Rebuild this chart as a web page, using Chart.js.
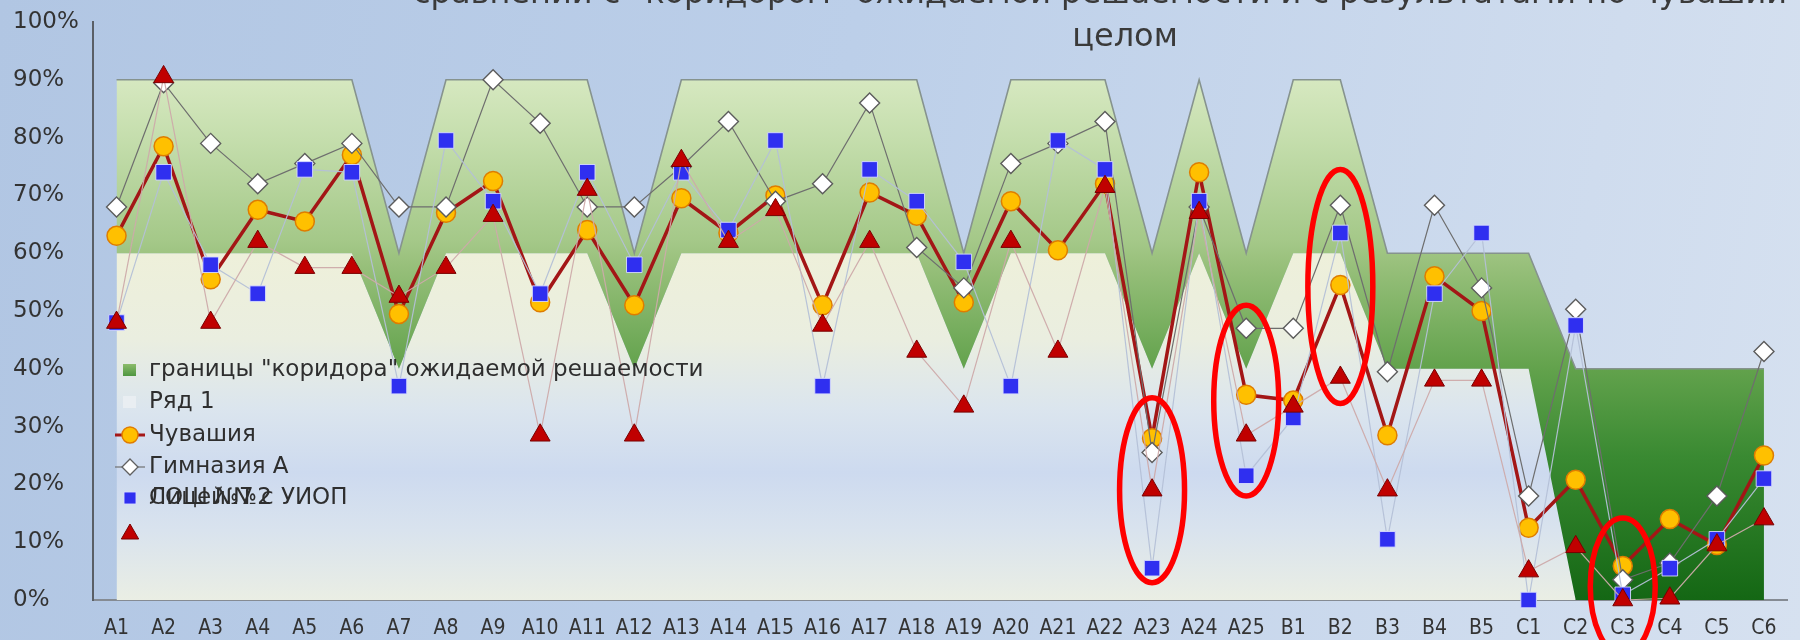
<!DOCTYPE html>
<html><head><meta charset="utf-8">
<script src="https://cdn.jsdelivr.net/npm/chart.js@4.4.1/dist/chart.umd.min.js"></script>
<style>
html,body{margin:0;padding:0;overflow:hidden;}
body{width:1800px;height:640px;background:linear-gradient(100deg,#b1c6e3 0%,#bccfe9 45%,#cfdcee 85%,#d6e1f0 100%);}
#wrap{position:relative;width:1800px;height:640px;}
</style></head><body><div id="wrap"><canvas id="c" width="1800" height="640"></canvas></div>
<script>
const categories = ['А1','А2','А3','А4','А5','А6','А7','А8','А9','А10','А11','А12','А13','А14','А15','А16','А17','А18','А19','А20','А21','А22','А23','А24','А25','В1','В2','В3','В4','В5','С1','С2','С3','С4','С5','С6'];
const corridorLow  = [60,60,60,60,60,60,40,60,60,60,60,40,60,60,60,60,60,60,40,60,60,60,40,60,40,60,60,40,40,40,40,0,0,0,0,0];
const corridorHigh = [90,90,90,90,90,90,60,90,90,90,90,60,90,90,90,90,90,90,60,90,90,90,60,90,60,90,90,60,60,60,60,40,40,40,40,40];
const chuvashia  = [63,78.5,55.5,67.5,65.5,77,49.5,67,72.5,51.5,64,51,69.5,63.5,70,51,70.5,66.5,51.5,69,60.5,72,28,74,35.5,34.5,54.5,28.5,56,50,12.5,20.8,5.9,14,9.5,25];
const gymnasiumA = [68,89.5,79,72,75.5,79,68,68,90,82.5,68,68,75,82.8,69,72,86,61,54,75.5,79,82.8,25.5,68,47,47,68.3,39.5,68.3,54,18,50.3,3.5,6.4,18,43];
const lyceum     = [48,74,58,53,74.5,74,37,79.5,69,53,74,58,74,64,79.5,37,74.5,69,58.5,37,79.5,74.5,5.5,69,21.5,31.5,63.5,10.5,53,63.5,0,47.5,0.9,5.5,10.5,21];
const school7    = [48,90.5,48,62,57.5,57.5,52.5,57.5,66.5,28.5,71,28.5,76,62,67.5,47.5,62,43,33.5,62,43,71.5,19,67,28.5,33.5,38.5,19,38,38,5,9.2,0,0.3,9.5,14];
const yTicks = [0,10,20,30,40,50,60,70,80,90,100];
const seriesNames = ['Ряд 1','границы "коридора" ожидаемой решаемости','Чувашия','Гимназия А','Лицей №2','СОШ №7 с УИОП'];
const titleLines = ['сравнении с "коридором" ожидаемой решаемости и с результатами по Чувашии в','целом'];
// highlighted cells (category, value range) circled in red
const highlightCats = ['А23','А25','В2','С3'];
const highlightLo   = [3,18,34,-9.5];
const highlightHi   = [35,51,74.5,14.2];

const FONT = '"DejaVu Sans", Verdana, sans-serif';
const FONT_COND = '"DejaVu Sans Condensed", "DejaVu Sans", sans-serif';

function vGradient(chart, stops) {
  const ys = chart.scales.y;
  const y0 = ys.getPixelForValue(100), y1 = ys.getPixelForValue(0);
  const g = chart.ctx.createLinearGradient(0, y0, 0, y1);
  stops.forEach(([v, c]) => g.addColorStop((100 - v) / 100, c));
  return g;
}
const greenStops = [[100,'#dbebc6'],[90,'#d6e8c0'],[80,'#c5dead'],[62,'#a4c888'],[58,'#98c07b'],[40,'#62a24c'],[25,'#3a8a32'],[0,'#146714']];
const lowStops = [[100,'#eef0da'],[60,'#eef0da'],[45,'#eaeee0'],[33,'#dbe5ee'],[22,'#cddaef'],[12,'#d9e3ee'],[0,'#eaeee4']];

function drawCircle(ctx,x,y,r,fill,stroke,lw){ctx.beginPath();ctx.arc(x,y,r,0,Math.PI*2);ctx.fillStyle=fill;ctx.fill();ctx.lineWidth=lw;ctx.strokeStyle=stroke;ctx.stroke();}
function drawDiamond(ctx,x,y,r,fill,stroke,lw){ctx.beginPath();ctx.moveTo(x,y-r);ctx.lineTo(x+r,y);ctx.lineTo(x,y+r);ctx.lineTo(x-r,y);ctx.closePath();ctx.fillStyle=fill;ctx.fill();ctx.lineWidth=lw;ctx.strokeStyle=stroke;ctx.stroke();}
function drawSquare(ctx,x,y,s,fill,stroke,lw){ctx.beginPath();ctx.rect(x-s/2,y-s/2,s,s);ctx.fillStyle=fill;ctx.fill();ctx.lineWidth=lw;ctx.strokeStyle=stroke;ctx.stroke();}
function drawTriangle(ctx,x,y,r,fill,stroke,lw){const w=r*0.866;ctx.beginPath();ctx.moveTo(x,y-r);ctx.lineTo(x+w,y+r/2);ctx.lineTo(x-w,y+r/2);ctx.closePath();ctx.fillStyle=fill;ctx.fill();ctx.lineWidth=lw;ctx.strokeStyle=stroke;ctx.stroke();}

const titlePlugin = {
  id: 'slideTitle',
  afterDraw(chart) {
    const ctx = chart.ctx;
    ctx.save();
    ctx.font = '32px ' + FONT;
    ctx.fillStyle = '#3a3a3a';
    ctx.textBaseline = 'alphabetic';
    ctx.textAlign = 'left';
    ctx.fillText(titleLines[0], 413, 3);
    ctx.textAlign = 'center';
    ctx.fillText(titleLines[1], 1125, 46);
    ctx.restore();
  }
};

const legendPlugin = {
  id: 'sheetLegend',
  afterDatasetsDraw(chart) {
    const ctx = chart.ctx;
    const mx = 130, tx = 149;
    const rows = [370, 402, 435, 467, 498, 532];
    ctx.save();
    const gg = ctx.createLinearGradient(0, rows[0]-6, 0, rows[0]+6);
    gg.addColorStop(0,'#8cbc6c'); gg.addColorStop(1,'#4e9640');
    ctx.fillStyle = gg; ctx.fillRect(mx-7, rows[0]-6, 13, 12);
    ctx.fillStyle = '#e9eef2'; ctx.fillRect(mx-7, rows[1]-6, 13, 12);
    ctx.beginPath(); ctx.moveTo(mx-15, rows[2]); ctx.lineTo(mx+15, rows[2]);
    ctx.strokeStyle = '#a51717'; ctx.lineWidth = 3; ctx.stroke();
    drawCircle(ctx, mx, rows[2], 8, '#ffc000', '#e07c00', 1.5);
    ctx.beginPath(); ctx.moveTo(mx-15, rows[3]); ctx.lineTo(mx+15, rows[3]);
    ctx.strokeStyle = '#707070'; ctx.lineWidth = 1.2; ctx.stroke();
    drawDiamond(ctx, mx, rows[3], 8, '#ffffff', '#606060', 1.3);
    drawSquare(ctx, mx, rows[4], 12, '#2f2ff0', 'rgba(215,220,255,0.9)', 1);
    drawTriangle(ctx, mx, rows[5]+2, 10, '#c00000', '#7a0000', 1);
    ctx.font = '23px ' + FONT;
    ctx.fillStyle = '#2e2e2e';
    ctx.textBaseline = 'middle';
    ctx.textAlign = 'left';
    ctx.fillText(seriesNames[1], tx, rows[0]);
    ctx.fillText(seriesNames[0], tx, rows[1]);
    ctx.fillText(seriesNames[2], tx, rows[2]);
    ctx.fillText(seriesNames[3], tx, rows[3]);
    ctx.fillText(seriesNames[4], tx, rows[4]);
    ctx.fillText(seriesNames[5], tx, rows[4]);
    ctx.restore();
  }
};

const ellipsePlugin = {
  id: 'redEllipses',
  afterDatasetsDraw(chart) {
    const ctx = chart.ctx, xs = chart.scales.x, ys = chart.scales.y;
    const step = xs.getPixelForValue(1) - xs.getPixelForValue(0);
    ctx.save();
    ctx.strokeStyle = '#ff0000';
    ctx.lineWidth = 5.5;
    highlightCats.forEach((c, i) => {
      const cx = xs.getPixelForValue(categories.indexOf(c));
      const yt = ys.getPixelForValue(highlightHi[i]);
      const yb = ys.getPixelForValue(highlightLo[i]);
      ctx.beginPath();
      ctx.ellipse(cx, (yt + yb) / 2, step * 0.69, (yb - yt) / 2, 0, 0, Math.PI * 2);
      ctx.stroke();
    });
    ctx.restore();
  }
};

new Chart(document.getElementById('c'), {
  type: 'line',
  data: {
    labels: categories,
    datasets: [
      { label: seriesNames[0], data: corridorLow, fill: 'origin', order: 10,
        backgroundColor: (c) => c.chart.chartArea ? vGradient(c.chart, lowStops) : '#eef0da',
        borderWidth: 0, borderColor: 'rgba(0,0,0,0)', pointRadius: 0, tension: 0 },
      { label: seriesNames[1], data: corridorHigh, fill: '-1', order: 9,
        backgroundColor: (c) => c.chart.chartArea ? vGradient(c.chart, greenStops) : '#a4c888',
        borderWidth: 1.6, borderColor: '#86938e', pointRadius: 0, tension: 0 },
      { label: seriesNames[2], data: chuvashia, order: 4, fill: false, clip: false,
        borderColor: '#a31616', borderWidth: 3.5,
        pointStyle: 'circle', pointRadius: 9.5, pointBackgroundColor: '#ffc000',
        pointBorderColor: '#de7d00', pointBorderWidth: 1.5 },
      { label: seriesNames[3], data: gymnasiumA, order: 3, fill: false, clip: false,
        borderColor: '#6e6e6e', borderWidth: 1.2,
        pointStyle: 'rectRot', pointRadius: 10, pointBackgroundColor: '#ffffff',
        pointBorderColor: '#5c5c5c', pointBorderWidth: 1.4 },
      { label: seriesNames[4], data: lyceum, order: 2, fill: false, clip: false,
        borderColor: 'rgba(180,192,215,0.95)', borderWidth: 1.2,
        pointStyle: 'rect', pointRadius: 11, pointBackgroundColor: '#2f2ff0',
        pointBorderColor: 'rgba(215,220,255,0.9)', pointBorderWidth: 1 },
      { label: seriesNames[5], data: school7, order: 1, fill: false, clip: false,
        borderColor: 'rgba(205,170,170,0.95)', borderWidth: 1.2,
        pointStyle: 'triangle', pointRadius: 11.5, pointBackgroundColor: '#c00000',
        pointBorderColor: '#780000', pointBorderWidth: 1 }
    ]
  },
  options: {
    responsive: false, animation: false, events: [],
    layout: { padding: { left: 13, top: 22, right: 2, bottom: 0 } },
    plugins: { legend: { display: false }, tooltip: { enabled: false }, title: { display: false } },
    scales: {
      x: {
        type: 'category', offset: true,
        grid: { display: false, drawTicks: false },
        border: { display: true, color: '#858b93', width: 2 },
        ticks: { autoSkip: false, maxRotation: 0, padding: 16, color: '#333333', font: { family: FONT_COND, size: 21 } },
        afterFit: (s) => { s.height = 40; }
      },
      y: {
        min: 0, max: 100,
        afterBuildTicks: (s) => { s.ticks = yTicks.map(v => ({ value: v })); },
        grid: { display: false, drawTicks: false },
        border: { display: true, color: '#5a5f66', width: 2 },
        ticks: { crossAlign: 'far', color: '#333333', font: { family: FONT, size: 23 }, callback: (v) => v + '%' },
        afterFit: (s) => { s.width = 80; }
      }
    }
  },
  plugins: [titlePlugin, legendPlugin, ellipsePlugin]
});
</script></body></html>
